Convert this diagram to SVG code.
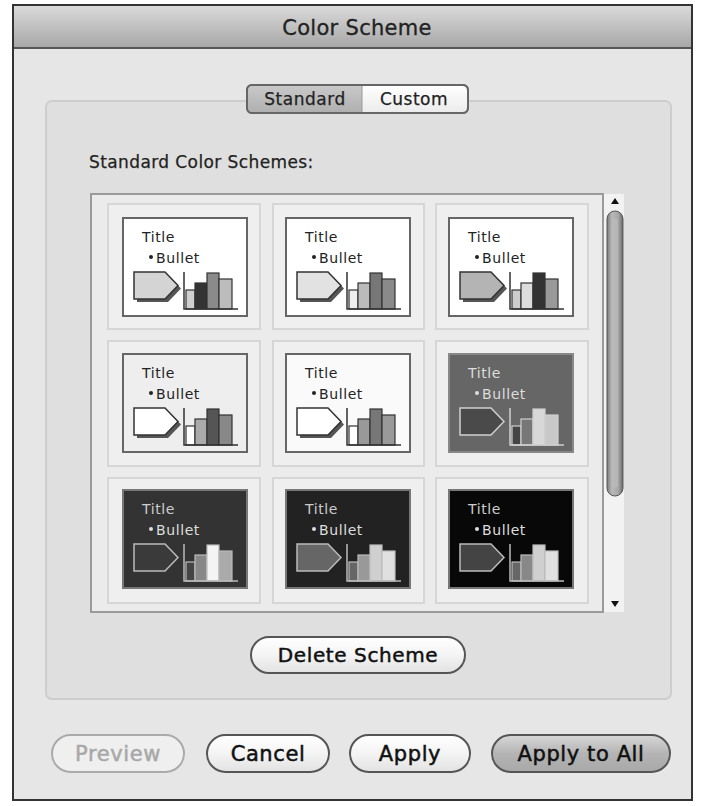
<svg xmlns="http://www.w3.org/2000/svg" width="704" height="806" viewBox="0 0 704 806">
<defs>
<linearGradient id="gTitle" x1="0" y1="0" x2="0" y2="1"><stop offset="0" stop-color="#dadada"/><stop offset="1" stop-color="#a6a6a6"/></linearGradient>
<linearGradient id="gBtn" x1="0" y1="0" x2="0" y2="1"><stop offset="0" stop-color="#ffffff"/><stop offset="0.5" stop-color="#f4f4f4"/><stop offset="1" stop-color="#e2e2e2"/></linearGradient>
<linearGradient id="gBtnDef" x1="0" y1="0" x2="0" y2="1"><stop offset="0" stop-color="#d8d8d8"/><stop offset="0.5" stop-color="#b4b4b4"/><stop offset="1" stop-color="#a8a8a8"/></linearGradient>
<linearGradient id="gTabOn" x1="0" y1="0" x2="0" y2="1"><stop offset="0" stop-color="#c8c8c8"/><stop offset="1" stop-color="#b0b0b0"/></linearGradient>
<linearGradient id="gTabOff" x1="0" y1="0" x2="0" y2="1"><stop offset="0" stop-color="#ffffff"/><stop offset="1" stop-color="#ebebeb"/></linearGradient>
<linearGradient id="gThumb" x1="0" y1="0" x2="1" y2="0"><stop offset="0" stop-color="#7a7a7a"/><stop offset="0.3" stop-color="#b8b8b8"/><stop offset="0.7" stop-color="#a8a8a8"/><stop offset="1" stop-color="#6a6a6a"/></linearGradient>
</defs>
<style>
text{font-family:"DejaVu Sans","Liberation Sans",sans-serif;}
.btn{fill:url(#gBtn);stroke:#555;stroke-width:2;}
.btnDef{fill:url(#gBtnDef);stroke:#555;stroke-width:2;}
.btnDis{fill:#efefef;stroke:#aaa;stroke-width:2;}
.bt{font-size:21px;letter-spacing:0.6px;fill:#111;stroke:#111;stroke-width:0.5px;text-anchor:middle;}
.cell{fill:#efefef;stroke:#d6d6d6;stroke-width:2;}
.tt{font-size:14px;letter-spacing:0.6px;}
.axis{fill:none;stroke-width:1.5;}
</style>
<rect x="0" y="0" width="704" height="806" fill="#ffffff"/>
<g id="window">
<rect x="13" y="5" width="679" height="795" fill="#e6e6e6" stroke="#333" stroke-width="2"/>
<rect x="14" y="6" width="677" height="42" fill="url(#gTitle)"/>
<line x1="14" y1="48" x2="691" y2="48" stroke="#555" stroke-width="2"/>
<text x="357" y="35" font-size="21" letter-spacing="0.3" text-anchor="middle" fill="#222" stroke="#222" stroke-width="0.3">Color Scheme</text>
</g>
<g id="groupbox">
<rect x="46" y="101" width="625" height="598" rx="6" fill="#dfdfdf" stroke="#cdcdcd" stroke-width="2"/>
</g>
<g id="tabs">
<rect x="247" y="85" width="221" height="28" rx="5" fill="url(#gTabOff)" stroke="#666" stroke-width="2"/>
<path d="M252 86 H362 V112 H252 A4 4 0 0 1 248 108 V90 A4 4 0 0 1 252 86 Z" fill="url(#gTabOn)"/>
<line x1="362" y1="86" x2="362" y2="112" stroke="#999" stroke-width="1"/>
<rect x="247" y="85" width="221" height="28" rx="5" fill="none" stroke="#666" stroke-width="2"/>
<text x="305" y="105" font-size="17" letter-spacing="0.5" text-anchor="middle" fill="#222" stroke="#222" stroke-width="0.25">Standard</text>
<text x="414" y="105" font-size="17" letter-spacing="0.5" text-anchor="middle" fill="#222" stroke="#222" stroke-width="0.25">Custom</text>
</g>
<text x="89" y="168" font-size="17" letter-spacing="0.4" fill="#222" stroke="#222" stroke-width="0.25">Standard Color Schemes:</text>
<g id="list">
<rect x="91" y="194" width="512" height="418" fill="#ebebeb" stroke="#9a9a9a" stroke-width="2"/>
<rect x="604" y="194" width="20" height="418" fill="#f2f2f2"/>
<path d="M611 204 L619 204 L615 198 Z" fill="#111"/>
<path d="M611 601 L619 601 L615 607 Z" fill="#111"/>
<rect x="607" y="211" width="16" height="285" rx="8" fill="url(#gThumb)" stroke="#555" stroke-width="1"/>
<rect x="612" y="218" width="6" height="270" rx="3" fill="#bdbdbd" opacity="0.6"/>
</g>
<g id="cells">
<rect class="cell" x="108" y="204" width="152" height="125"/>
<rect class="cell" x="273" y="204" width="151" height="125"/>
<rect class="cell" x="436" y="204" width="152" height="125"/>
<rect class="cell" x="108" y="341" width="152" height="125"/>
<rect class="cell" x="273" y="341" width="151" height="125"/>
<rect class="cell" x="436" y="341" width="152" height="125"/>
<rect class="cell" x="108" y="478" width="152" height="125"/>
<rect class="cell" x="273" y="478" width="151" height="125"/>
<rect class="cell" x="436" y="478" width="152" height="125"/>
</g>
<g id="s1" transform="translate(123,218)">
<rect width="124" height="98" fill="#fff" stroke="#666" stroke-width="2"/>
<text class="tt" x="19" y="24" fill="#222">Title</text><circle cx="28" cy="39" r="2" fill="#222"/><text class="tt" x="33" y="45" fill="#222">Bullet</text>
<polygon points="14,57 45,57 58,70.5 45,84 14,84" fill="#555"/>
<polygon points="11,54 42,54 55,67.5 42,81 11,81" fill="#d4d4d4" stroke="#333" stroke-width="1.5"/>
<g stroke="#333" stroke-width="1.2"><rect x="63" y="72" width="9" height="19" fill="#cfcfcf"/><rect x="72" y="65" width="12" height="26" fill="#333"/><rect x="84" y="55" width="12" height="36" fill="#8a8a8a"/><rect x="96" y="61" width="13" height="30" fill="#bcbcbc"/></g>
<path class="axis" d="M61 54 V91 H115" stroke="#333"/>
</g>
<g id="s2" transform="translate(286,218)">
<rect width="124" height="98" fill="#fff" stroke="#666" stroke-width="2"/>
<text class="tt" x="19" y="24" fill="#222">Title</text><circle cx="28" cy="39" r="2" fill="#222"/><text class="tt" x="33" y="45" fill="#222">Bullet</text>
<polygon points="14,57 45,57 58,70.5 45,84 14,84" fill="#555"/>
<polygon points="11,54 42,54 55,67.5 42,81 11,81" fill="#e2e2e2" stroke="#333" stroke-width="1.5"/>
<g stroke="#333" stroke-width="1.2"><rect x="63" y="72" width="9" height="19" fill="#eeeeee"/><rect x="72" y="65" width="12" height="26" fill="#bbbbbb"/><rect x="84" y="55" width="12" height="36" fill="#777"/><rect x="96" y="61" width="13" height="30" fill="#8a8a8a"/></g>
<path class="axis" d="M61 54 V91 H115" stroke="#333"/>
</g>
<g id="s3" transform="translate(449,218)">
<rect width="124" height="98" fill="#fff" stroke="#666" stroke-width="2"/>
<text class="tt" x="19" y="24" fill="#222">Title</text><circle cx="28" cy="39" r="2" fill="#222"/><text class="tt" x="33" y="45" fill="#222">Bullet</text>
<polygon points="14,57 45,57 58,70.5 45,84 14,84" fill="#555"/>
<polygon points="11,54 42,54 55,67.5 42,81 11,81" fill="#b4b4b4" stroke="#333" stroke-width="1.5"/>
<g stroke="#333" stroke-width="1.2"><rect x="63" y="72" width="9" height="19" fill="#cccccc"/><rect x="72" y="65" width="12" height="26" fill="#dddddd"/><rect x="84" y="55" width="12" height="36" fill="#333"/><rect x="96" y="61" width="13" height="30" fill="#999"/></g>
<path class="axis" d="M61 54 V91 H115" stroke="#333"/>
</g>
<g id="s4" transform="translate(123,354)">
<rect width="124" height="98" fill="#eeeeee" stroke="#666" stroke-width="2"/>
<text class="tt" x="19" y="24" fill="#222">Title</text><circle cx="28" cy="39" r="2" fill="#222"/><text class="tt" x="33" y="45" fill="#222">Bullet</text>
<polygon points="14,57 45,57 58,70.5 45,84 14,84" fill="#555"/>
<polygon points="11,54 42,54 55,67.5 42,81 11,81" fill="#ffffff" stroke="#333" stroke-width="1.5"/>
<g stroke="#333" stroke-width="1.2"><rect x="63" y="72" width="9" height="19" fill="#fff"/><rect x="72" y="65" width="12" height="26" fill="#aaaaaa"/><rect x="84" y="55" width="12" height="36" fill="#555"/><rect x="96" y="61" width="13" height="30" fill="#888"/></g>
<path class="axis" d="M61 54 V91 H115" stroke="#333"/>
</g>
<g id="s5" transform="translate(286,354)">
<rect width="124" height="98" fill="#fafafa" stroke="#666" stroke-width="2"/>
<text class="tt" x="19" y="24" fill="#222">Title</text><circle cx="28" cy="39" r="2" fill="#222"/><text class="tt" x="33" y="45" fill="#222">Bullet</text>
<polygon points="14,57 45,57 58,70.5 45,84 14,84" fill="#555"/>
<polygon points="11,54 42,54 55,67.5 42,81 11,81" fill="#ffffff" stroke="#333" stroke-width="1.5"/>
<g stroke="#333" stroke-width="1.2"><rect x="63" y="72" width="9" height="19" fill="#fff"/><rect x="72" y="65" width="12" height="26" fill="#999"/><rect x="84" y="55" width="12" height="36" fill="#777"/><rect x="96" y="61" width="13" height="30" fill="#999"/></g>
<path class="axis" d="M61 54 V91 H115" stroke="#333"/>
</g>
<g id="s6" transform="translate(449,354)">
<rect width="124" height="98" fill="#666" stroke="#888" stroke-width="2"/>
<text class="tt" x="19" y="24" fill="#ddd">Title</text><circle cx="28" cy="39" r="2" fill="#ddd"/><text class="tt" x="33" y="45" fill="#ddd">Bullet</text>
<polygon points="11,54 42,54 55,67.5 42,81 11,81" fill="#4a4a4a" stroke="#cfcfcf" stroke-width="1.5"/>
<g stroke="#cfcfcf" stroke-width="1.2"><rect x="63" y="72" width="9" height="19" fill="#444"/><rect x="72" y="65" width="12" height="26" fill="#777"/><rect x="84" y="55" width="12" height="36" fill="#d8d8d8"/><rect x="96" y="61" width="13" height="30" fill="#c8c8c8"/></g>
<path class="axis" d="M61 54 V91 H115" stroke="#cfcfcf"/>
</g>
<g id="s7" transform="translate(123,490)">
<rect width="124" height="98" fill="#333" stroke="#777" stroke-width="2"/>
<text class="tt" x="19" y="24" fill="#ccc">Title</text><circle cx="28" cy="39" r="2" fill="#ddd"/><text class="tt" x="33" y="45" fill="#ddd">Bullet</text>
<polygon points="11,54 42,54 55,67.5 42,81 11,81" fill="#3a3a3a" stroke="#bbb" stroke-width="1.5"/>
<g stroke="#bbb" stroke-width="1.2"><rect x="63" y="72" width="9" height="19" fill="#444"/><rect x="72" y="65" width="12" height="26" fill="#888"/><rect x="84" y="55" width="12" height="36" fill="#f4f4f4"/><rect x="96" y="61" width="13" height="30" fill="#aaa"/></g>
<path class="axis" d="M61 54 V91 H115" stroke="#bbb"/>
</g>
<g id="s8" transform="translate(286,490)">
<rect width="124" height="98" fill="#222" stroke="#777" stroke-width="2"/>
<text class="tt" x="19" y="24" fill="#ccc">Title</text><circle cx="28" cy="39" r="2" fill="#ddd"/><text class="tt" x="33" y="45" fill="#ddd">Bullet</text>
<polygon points="11,54 42,54 55,67.5 42,81 11,81" fill="#666" stroke="#bbb" stroke-width="1.5"/>
<g stroke="#bbb" stroke-width="1.2"><rect x="63" y="72" width="9" height="19" fill="#666"/><rect x="72" y="65" width="12" height="26" fill="#999"/><rect x="84" y="55" width="12" height="36" fill="#cfcfcf"/><rect x="96" y="61" width="13" height="30" fill="#e0e0e0"/></g>
<path class="axis" d="M61 54 V91 H115" stroke="#bbb"/>
</g>
<g id="s9" transform="translate(449,490)">
<rect width="124" height="98" fill="#080808" stroke="#777" stroke-width="2"/>
<text class="tt" x="19" y="24" fill="#ccc">Title</text><circle cx="28" cy="39" r="2" fill="#ddd"/><text class="tt" x="33" y="45" fill="#ddd">Bullet</text>
<polygon points="11,54 42,54 55,67.5 42,81 11,81" fill="#444" stroke="#bbb" stroke-width="1.5"/>
<g stroke="#bbb" stroke-width="1.2"><rect x="63" y="72" width="9" height="19" fill="#666"/><rect x="72" y="65" width="12" height="26" fill="#888"/><rect x="84" y="55" width="12" height="36" fill="#cfcfcf"/><rect x="96" y="61" width="13" height="30" fill="#e0e0e0"/></g>
<path class="axis" d="M61 54 V91 H115" stroke="#bbb"/>
</g>
<g id="btn-delete">
<rect class="btn" x="251" y="637" width="214" height="36" rx="18"/>
<text class="bt" x="358" y="662" style="font-size:20px">Delete Scheme</text>
</g>
<g id="btn-preview">
<rect class="btnDis" x="52" y="735" width="132" height="37" rx="18.5"/>
<text class="bt" x="118" y="761" style="fill:#a8a8a8;stroke:#a8a8a8">Preview</text>
</g>
<g id="btn-cancel">
<rect class="btn" x="207" y="735" width="122" height="37" rx="18.5"/>
<text class="bt" x="268" y="761">Cancel</text>
</g>
<g id="btn-apply">
<rect class="btn" x="350" y="735" width="120" height="37" rx="18.5"/>
<text class="bt" x="410" y="761">Apply</text>
</g>
<g id="btn-applyall">
<rect class="btnDef" x="492" y="735" width="178" height="37" rx="18.5"/>
<text class="bt" x="581" y="761">Apply to All</text>
</g>
</svg>
